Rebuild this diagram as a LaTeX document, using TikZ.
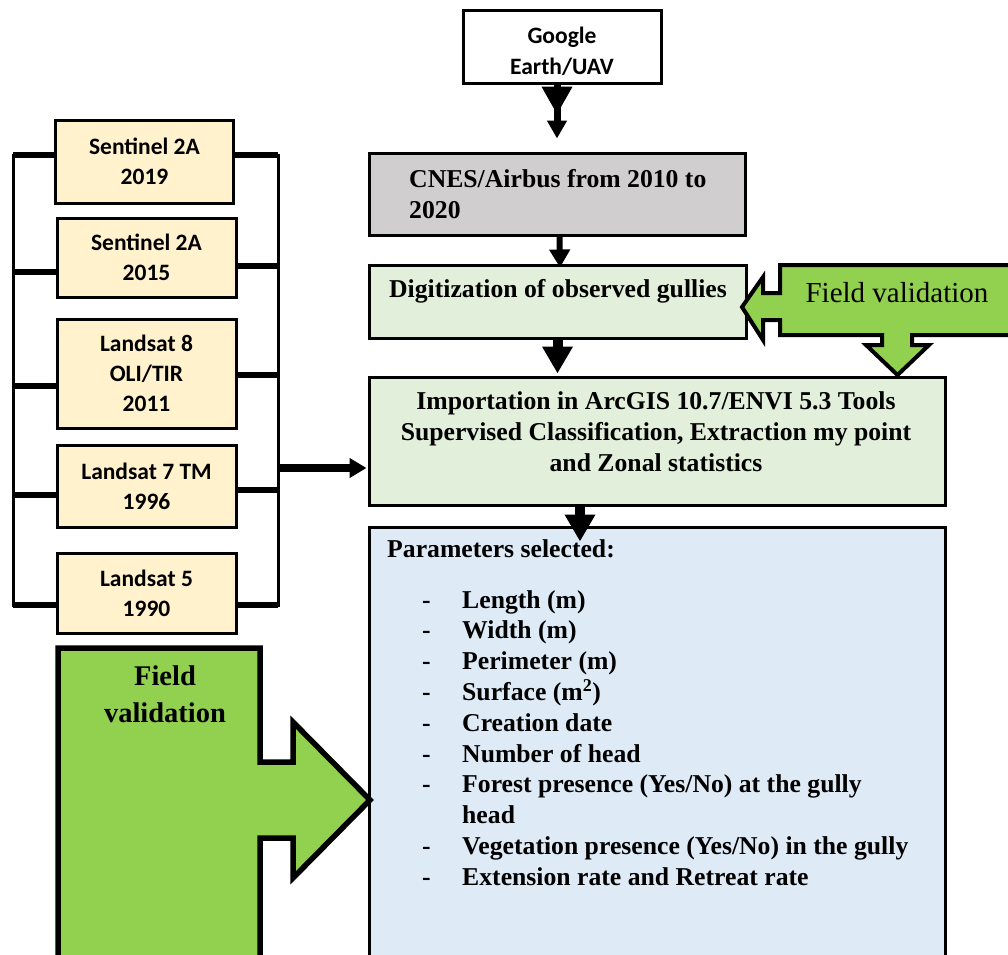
\documentclass[tikz,border=0pt]{standalone}
\usepackage{fontspec}
\setmainfont{Liberation Serif}
\newfontfamily\calib{Carlito}
\usetikzlibrary{arrows.meta}
\definecolor{fvgreen}{HTML}{92D050}
\definecolor{lgreen}{HTML}{E2EFDA}
\definecolor{lgray}{HTML}{D0CECE}
\definecolor{lyellow}{HTML}{FFF2CC}
\definecolor{lblue}{HTML}{DEEBF7}
\begin{document}
\begin{tikzpicture}[x=1pt,y=-1pt,
  box/.style={draw=black, line width=3pt, inner sep=0pt},
  sat/.style={box, fill=lyellow, minimum width=179pt, font=\calib\bfseries\fontsize{23.5}{30}\selectfont, align=center},
  sanslbl/.style={inner sep=0pt, font=\calib\bfseries\fontsize{23.5}{31}\selectfont, align=center},
  ser/.style={inner sep=0pt, font=\bfseries\fontsize{25.7}{31}\selectfont},
  ptext/.style={ser, anchor=base west},
  tick/.style={line width=5.5pt},
  vline/.style={line width=3pt, line cap=rect},
  fv/.style={draw=black, fill=fvgreen, line join=miter},
  arrA/.style={line width=6pt, -{Triangle[length=18pt,width=20pt]}},
  arrB/.style={line width=10pt, -{Triangle[length=27pt,width=29pt]}},
  arrC/.style={line width=8pt, -{Triangle[length=17pt,width=19pt]}},
  arrG/.style={line width=7pt, -{Triangle[length=18pt,width=19pt]}},
  arrGB/.style={line width=7pt, -{Triangle[length=28pt,width=29pt]}}
]
\useasboundingbox (0,0) rectangle (1008,954);
\clip (0,0) rectangle (1008,954);

% main column boxes
\node[box, fill=white, minimum width=198pt, minimum height=73pt] (goog) at (562,46.5) {};
\node[sanslbl] (googt) at (562,51) {Google\\Earth/UAV};
\node[box, fill=lgray, minimum width=376pt, minimum height=82pt] (cnes) at (557,194) {};
\node[ser, align=left, anchor=west] (cnest) at (409,194) {CNES/Airbus from 2010 to\\2020};
\node[box, fill=lgreen, minimum width=377pt, minimum height=73pt] (dig) at (557.5,301.5) {};
\node[ser, anchor=base] (digt) at (558,297) {Digitization of observed gullies};
\node[box, fill=lgreen, minimum width=576pt, minimum height=128pt] (imp) at (657,441) {};
\node[ser, align=center] (impt) at (656,431.5) {Importation in ArcGIS 10.7/ENVI 5.3 Tools\\Supervised Classification, Extraction my point\\and Zonal statistics};
\node[box, fill=lblue, minimum width=576pt, minimum height=440pt] (par) at (657,747) {};

% parameters text
\node[ptext] (p0) at (387,557) {Parameters selected:};
\node[ptext] (d1) at (422,608) {-};
\node[ptext] (p1) at (462,608) {Length (m)};
\node[ptext] (d2) at (422,638.8) {-};
\node[ptext] (p2) at (462,638.8) {Width (m)};
\node[ptext] (d3) at (422,669.6) {-};
\node[ptext] (p3) at (462,669.6) {Perimeter (m)};
\node[ptext] (d4) at (422,700.4) {-};
\node[ptext] (p4) at (462,700.4) {Surface (m\textsuperscript{2})};
\node[ptext] (d5) at (422,731.2) {-};
\node[ptext] (p5) at (462,731.2) {Creation date};
\node[ptext] (d6) at (422,762) {-};
\node[ptext] (p6) at (462,762) {Number of head};
\node[ptext] (d7) at (422,792.8) {-};
\node[ptext] (p7) at (462,792.8) {Forest presence (Yes/No) at the gully};
\node[ptext] (p7b) at (462,823.6) {head};
\node[ptext] (d8) at (422,854.4) {-};
\node[ptext] (p8) at (462,854.4) {Vegetation presence (Yes/No) in the gully};
\node[ptext] (d9) at (422,885.2) {-};
\node[ptext] (p9) at (462,885.2) {Extension rate and Retreat rate};

% satellite boxes
\node[sat, minimum width=178pt, minimum height=83pt] (s1) at (144.5,161.5) {Sentinel 2A\\2019};
\node[sat, minimum height=79pt] (s2) at (146.5,257.5) {Sentinel 2A\\2015};
\node[sat, minimum height=109pt] (s3) at (146.5,373.5) {Landsat 8\\OLI/TIR\\2011};
\node[sat, minimum height=82pt] (s4) at (146.5,486) {Landsat 7 TM\\1996};
\node[sat, minimum height=80pt] (s5) at (146.5,593) {Landsat 5\\1990};

% bracket
\coordinate (l1) at (13,155);
\coordinate (l2) at (13,272);
\coordinate (l3) at (13,386);
\coordinate (l4) at (13,495);
\coordinate (l5) at (13,605);
\coordinate (r1) at (278,155);
\coordinate (r2) at (278,266);
\coordinate (r3) at (278,375);
\coordinate (r4) at (278,490);
\coordinate (r5) at (278,605);
\draw[vline] (l1) -- (l5);
\draw[vline] (r1) -- (r5);
\draw[tick] (l1) -- (l1 -| s1.west);
\draw[tick] (l2) -- (l2 -| s2.west);
\draw[tick] (l3) -- (l3 -| s3.west);
\draw[tick] (l4) -- (l4 -| s4.west);
\draw[tick] (l5) -- (l5 -| s5.west);
\draw[tick] (r1) -- (r1 -| s1.east);
\draw[tick] (r2) -- (r2 -| s2.east);
\draw[tick] (r3) -- (r3 -| s3.east);
\draw[tick] (r4) -- (r4 -| s4.east);
\draw[tick] (r5) -- (r5 -| s5.east);
\coordinate (rb) at (278,468);
\draw[arrC, shorten >=1pt] (rb) -- (rb -| imp.west);

% arrows of main column
\coordinate (ga) at (cnes.north |- goog.south);
\draw[arrG] (ga) -- ([yshift=13pt]cnes.north);
\draw[arrGB] (ga) -- ++(0,30);
\draw[arrA] ([xshift=2.5pt]cnes.south) -- ([xshift=2.5pt,yshift=-4pt]dig.north);
\draw[arrB] (dig.south) -- ([yshift=2pt]dig.south |- imp.north);
\draw[arrB] ([xshift=-77pt]imp.south) -- ([xshift=-77pt,yshift=-16pt]par.north);

% field validation (right)
\draw[fv, line width=4pt] (742,307) -- (763,277) -- (763,293) -- (780,293) -- (780,265) -- (1015,265) -- (1015,335) -- (912,335) -- (912,345) -- (929,345) -- (897.5,375) -- (866,345) -- (882,345) -- (882,335) -- (780,335) -- (780,320) -- (763,320) -- (763,340) -- cycle;
\node[inner sep=0pt, font=\fontsize{29}{35}\selectfont] (fvr) at (897,292.5) {Field validation};

% field validation (left)
\draw[fv, line width=5.5pt] (58,648) -- (260,648) -- (260,762) -- (293,762) -- (293,722) -- (370,800) -- (293,878) -- (293,838) -- (260,838) -- (260,965) -- (58,965) -- cycle;
\node[inner sep=0pt, align=center, font=\bfseries\fontsize{28.5}{37}\selectfont] (fvl) at (165,694) {Field\\validation};
\end{tikzpicture}
\end{document}
